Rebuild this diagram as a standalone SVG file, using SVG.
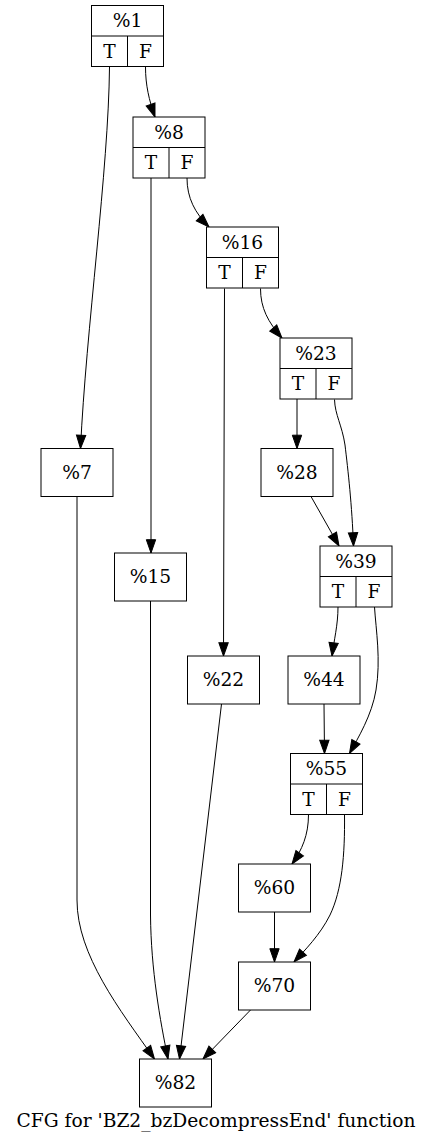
<svg xmlns="http://www.w3.org/2000/svg" width="433" height="1144" viewBox="0 0 433 1144">
<style>
  .box { fill: #ffffff; stroke: #000000; stroke-width: 1; }
  .sep { stroke: #000000; stroke-width: 1; fill: none; }
  .lbl { font-family: "DejaVu Serif", "Liberation Serif", serif; font-size: 18.67px; fill: #000000; text-anchor: middle; }
  .edge { fill: none; stroke: #000000; stroke-width: 1; marker-end: url(#arrow); }
</style>
<defs>
  <marker id="arrow" markerUnits="userSpaceOnUse" markerWidth="14" markerHeight="10" refX="13.3" refY="4.67" orient="auto" overflow="visible">
    <path d="M0,0 L13.3,4.67 L0,9.33 z" fill="#000000" stroke="#000000" stroke-width="1"/>
  </marker>
</defs>
<rect width="433" height="1144" fill="#ffffff"/>

<g id="edges">
  <path class="edge" d="M109.5,67 C108.5,170 86,330 80.5,448.5"/>
  <path class="edge" d="M145.5,67 C145.5,85 149,100 155,117"/>
  <path class="edge" d="M151,178 L151,553"/>
  <path class="edge" d="M187,178 C187,198 195,213 209,227"/>
  <path class="edge" d="M224.5,288.5 L223.5,656"/>
  <path class="edge" d="M260.5,288.5 C260.5,308 268,322 282,338"/>
  <path class="edge" d="M297,399 L297,448.5"/>
  <path class="edge" d="M334.5,399.5 C335,415 342,425 345,445 C348,470 352,505 353.5,546"/>
  <path class="edge" d="M311,496.5 L339,546"/>
  <path class="edge" d="M338,607 C338,625 334,640 332,656"/>
  <path class="edge" d="M374.5,607 C376,630 381,660 376,690 C372,715 358,738 349.5,753.5"/>
  <path class="edge" d="M324,704 L324.5,753.5"/>
  <path class="edge" d="M308.5,814.5 C308.5,835 302,850 292,864"/>
  <path class="edge" d="M344.5,814.5 C345,855 342,890 330,915 C320,935 305,950 294,962"/>
  <path class="edge" d="M274.5,912 L274.5,962"/>
  <path class="edge" d="M250.5,1010 L203,1059"/>
  <path class="edge" d="M77,496.5 L77,900 C77,955 120,1010 154.5,1059"/>
  <path class="edge" d="M150.5,601 L150.5,915 C151,970 160,1020 168,1059"/>
  <path class="edge" d="M221.5,704 L179.5,1059"/>
</g>

<g id="n1">
  <rect class="box" x="91.5" y="5.5" width="72" height="61"/>
  <line class="sep" x1="91.5" y1="36" x2="163.5" y2="36"/>
  <line class="sep" x1="127.5" y1="36" x2="127.5" y2="66.5"/>
  <text class="lbl" x="127.5" y="27">%1</text>
  <text class="lbl" x="109.5" y="57.5">T</text>
  <text class="lbl" x="145.5" y="57.5">F</text>
</g>
<g id="n8">
  <rect class="box" x="133" y="117" width="72" height="61"/>
  <line class="sep" x1="133" y1="147.5" x2="205" y2="147.5"/>
  <line class="sep" x1="169" y1="147.5" x2="169" y2="178"/>
  <text class="lbl" x="169" y="138.5">%8</text>
  <text class="lbl" x="151" y="169">T</text>
  <text class="lbl" x="187" y="169">F</text>
</g>
<g id="n16">
  <rect class="box" x="206.5" y="227" width="72" height="61"/>
  <line class="sep" x1="206.5" y1="257.5" x2="278.5" y2="257.5"/>
  <line class="sep" x1="242.5" y1="257.5" x2="242.5" y2="288"/>
  <text class="lbl" x="242.5" y="248.5">%16</text>
  <text class="lbl" x="224.5" y="279">T</text>
  <text class="lbl" x="260.5" y="279">F</text>
</g>
<g id="n23">
  <rect class="box" x="280" y="338" width="72" height="61"/>
  <line class="sep" x1="280" y1="368.5" x2="352" y2="368.5"/>
  <line class="sep" x1="316" y1="368.5" x2="316" y2="399"/>
  <text class="lbl" x="316" y="359.5">%23</text>
  <text class="lbl" x="298" y="390">T</text>
  <text class="lbl" x="334" y="390">F</text>
</g>
<g id="n7">
  <rect class="box" x="41" y="448.5" width="72" height="48"/>
  <text class="lbl" x="77" y="478.5">%7</text>
</g>
<g id="n28">
  <rect class="box" x="261" y="448.5" width="72" height="48"/>
  <text class="lbl" x="297" y="478.5">%28</text>
</g>
<g id="n15">
  <rect class="box" x="114.5" y="553" width="72" height="48"/>
  <text class="lbl" x="150.5" y="583">%15</text>
</g>
<g id="n39">
  <rect class="box" x="320" y="546" width="72" height="61"/>
  <line class="sep" x1="320" y1="576.5" x2="392" y2="576.5"/>
  <line class="sep" x1="356" y1="576.5" x2="356" y2="607"/>
  <text class="lbl" x="356" y="567.5">%39</text>
  <text class="lbl" x="338" y="598">T</text>
  <text class="lbl" x="374" y="598">F</text>
</g>
<g id="n22">
  <rect class="box" x="187.5" y="656" width="72" height="48"/>
  <text class="lbl" x="223.5" y="686">%22</text>
</g>
<g id="n44">
  <rect class="box" x="288" y="656" width="72" height="48"/>
  <text class="lbl" x="324" y="686">%44</text>
</g>
<g id="n55">
  <rect class="box" x="290.5" y="753.5" width="72" height="61"/>
  <line class="sep" x1="290.5" y1="784" x2="362.5" y2="784"/>
  <line class="sep" x1="326.5" y1="784" x2="326.5" y2="814.5"/>
  <text class="lbl" x="326.5" y="775">%55</text>
  <text class="lbl" x="308.5" y="805.5">T</text>
  <text class="lbl" x="344.5" y="805.5">F</text>
</g>
<g id="n60">
  <rect class="box" x="238.5" y="864" width="72" height="48"/>
  <text class="lbl" x="274.5" y="894">%60</text>
</g>
<g id="n70">
  <rect class="box" x="238.5" y="962" width="72" height="48"/>
  <text class="lbl" x="274.5" y="992">%70</text>
</g>
<g id="n82">
  <rect class="box" x="139.5" y="1059" width="72" height="48"/>
  <text class="lbl" x="175.5" y="1089">%82</text>
</g>
<g id="title">
  <text class="lbl" x="216" y="1127">CFG for 'BZ2_bzDecompressEnd' function</text>
</g>
</svg>
